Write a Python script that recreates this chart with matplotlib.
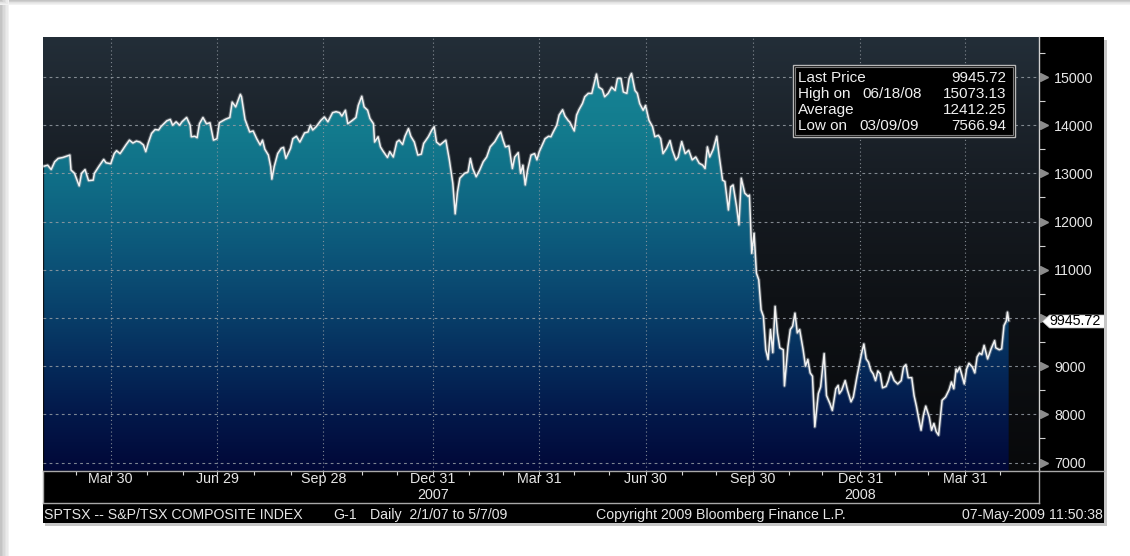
import numpy as np
import pandas as pd
import matplotlib
matplotlib.use('Agg')
import matplotlib.pyplot as plt
import matplotlib.dates as mdates
import matplotlib.transforms as mtransforms
from matplotlib.colors import LinearSegmentedColormap
from matplotlib.patches import Rectangle, PathPatch
from matplotlib.path import Path

plt.rcParams['font.family'] = ['Liberation Sans', 'DejaVu Sans']

# ---- data: S&P/TSX composite, days counted from 2007-02-01 ----
start_date = '2007-02-01'
days = [0, 3, 6, 9, 12, 16, 22, 23, 26, 30, 32, 35, 38, 42, 43, 47, 51, 53, 57, 60,
        62, 65, 67, 70, 73, 76, 79, 82, 85, 87, 89, 92, 95, 98, 100, 105, 108, 110, 113, 116,
        118, 122, 125, 126, 129, 131, 133, 136, 139, 142, 145, 148, 150, 155, 159, 161, 164, 168, 169, 172,
        176, 179, 182, 185, 187, 189, 192, 194, 195, 197, 200, 203, 205, 207, 211, 213, 216, 219, 223, 226,
        228, 230, 233, 237, 240, 243, 247, 250, 253, 255, 258, 260, 264, 267, 269, 272, 274, 277, 279, 282,
        283, 286, 288, 290, 294, 296, 299, 302, 304, 307, 309, 312, 314, 317, 320, 323, 325, 329, 332, 334,
        336, 339, 342, 344, 347, 350, 352, 354, 356, 360, 363,
        365, 367, 370, 373, 376, 379, 382, 386, 389, 391, 393, 395, 398, 401, 403, 406, 408, 410, 412, 414,
        417, 420, 422, 424, 429, 432, 434, 436, 439, 441, 444, 446, 449, 450, 454, 456, 458, 461, 463, 466,
        469, 471, 473, 475, 478, 480, 483, 486, 489, 491, 494, 496, 499, 501, 503, 506, 508, 510, 513, 515, 518,
        521, 523, 526, 528, 530, 533, 536, 538, 541, 543, 546, 549, 552, 555, 558, 561, 564, 566, 568, 570,
        573, 576, 578, 581, 583, 586, 588, 590, 593, 595, 597, 600, 603, 604, 606, 608, 610, 612, 614, 616,
        618, 620, 622, 624, 626, 628, 630, 633, 634, 637, 639, 641, 643, 645, 647, 648, 650, 652, 654, 656, 658,
        660, 663, 665, 668, 670, 673, 675, 678, 680, 681, 683, 686, 688, 691, 693, 696, 700, 702, 704, 706,
        708, 710, 712, 714, 716, 718, 721, 723, 725, 728, 731, 734, 736, 738, 740, 743, 745, 747, 749, 751,
        753, 755, 758, 760, 762, 764, 766, 769, 772, 775, 777, 779, 781, 782, 784, 786, 788, 790, 792, 795,
        797, 799, 801, 803, 805, 808, 811, 814, 815, 818, 820, 822, 824, 825, 826]
close = [13150, 13170, 13080, 13240, 13310, 13330, 13380, 13070, 13000, 12740, 13000, 13080, 12850, 12860, 13000, 13150, 13290, 13220, 13200, 13410,
         13470, 13410, 13480, 13590, 13690, 13630, 13670, 13650, 13590, 13450, 13620, 13830, 13910, 13900, 13970, 14090, 14120, 14000, 14070, 14000,
         14070, 14160, 14000, 13760, 13770, 13740, 14030, 14160, 14030, 14050, 13690, 13720, 14050, 14120, 14160, 14480, 14380, 14640, 14590, 14120,
         13860, 13880, 13720, 13590, 13690, 13500, 13380, 13140, 12880, 13140, 13410, 13520, 13540, 13310, 13520, 13720, 13770, 13650, 13840, 13860,
         14000, 13900, 13970, 14100, 14170, 14070, 14260, 14280, 14260, 14190, 14310, 14030, 14100, 14160, 14410, 14600, 14380, 14310, 14140, 14030,
         13650, 13760, 13550, 13470, 13330, 13450, 13340, 13650, 13690, 13600, 13770, 13930, 13770, 13650, 13380, 13400, 13620, 13760, 13900, 13970,
         13650, 13590, 13650, 13690, 13280, 12790, 12160, 12620, 12900, 13000, 13030,
         13310, 13100, 12930, 13070, 13240, 13340, 13550, 13660, 13790, 13860, 13690, 13550, 13570, 13100, 13340, 13430, 13000, 13170, 12760, 13070,
         13380, 13410, 13280, 13450, 13720, 13770, 13760, 13860, 14000, 14210, 14320, 14190, 14090, 14070, 13880, 14210, 14320, 14450, 14590, 14660,
         14660, 14860, 15060, 14790, 14740, 14590, 14660, 14790, 14720, 14970, 14970, 14690, 14660, 14970, 15073.13, 14720, 14660, 14450, 14310, 14410, 14100,
         13970, 13760, 13790, 13720, 13410, 13520, 13680, 13480, 13280, 13340, 13660, 13410, 13480, 13280, 13340, 13210, 13170, 13100, 13550, 13340,
         13500, 13770, 13380, 12860, 12830, 12240, 12720, 12760, 12310, 11930, 12900, 12590, 12520, 12550, 11340, 11760, 10930, 10790, 10170, 10030,
         9340, 9140, 9760, 9280, 10240, 9690, 9380, 9340, 8590, 9410, 9760, 9830, 10100, 9690, 9760, 9620, 9340, 9000, 9140, 8860, 8790,
         7740, 8430, 8570, 9260, 8390, 8220, 8080, 8530, 8600, 8430, 8500, 8700, 8500, 8260, 8360, 8770, 9260, 9460, 9150, 9080,
         8910, 8840, 8700, 8900, 8840, 8550, 8580, 8700, 8880, 8700, 8630, 8700, 8980, 9030, 8760, 8760, 8390, 8170, 7910, 7670,
         7980, 8170, 7940, 7670, 7810, 7640, 7566.94, 8290, 8360, 8510, 8670, 8530, 8940, 8880, 8980, 8810, 8630, 8940, 9060, 8980,
         8860, 9190, 9270, 9240, 9430, 9150, 9360, 9530, 9380, 9340, 9360, 9840, 9940, 10120, 9945.72]

y_ticks = [7000, 8000, 9000, 10000, 11000, 12000, 13000, 14000, 15000]
quarter_dates = ['2007-03-30', '2007-06-29', '2007-09-28', '2007-12-31', '2008-03-31',
                 '2008-06-30', '2008-09-30', '2008-12-31', '2009-03-31']
quarter_labels = ['Mar 30', 'Jun 29', 'Sep 28', 'Dec 31', 'Mar 31', 'Jun 30', 'Sep 30', 'Dec 31', 'Mar 31']
year_dates = ['2007-12-31', '2008-12-31']
year_labels = ['2007', '2008']

last_price = 9945.72
stat_names = ['Last Price', 'High on', 'Average', 'Low on']
stat_dates = ['', '06/18/08', '', '03/09/09']
stat_values = ['9945.72', '15073.13', '12412.25', '7566.94']

footer_name = 'SPTSX -- S&P/TSX COMPOSITE INDEX'
footer_code = 'G-1'
footer_range = 'Daily  2/1/07 to 5/7/09'
footer_copy = 'Copyright 2009 Bloomberg Finance L.P.'
footer_stamp = '07-May-2009 11:50:38'

# ---- layout helpers (pixel boxes) ----
W, H = 1130, 556
fig = plt.figure(figsize=(W / 100, H / 100), dpi=100, facecolor='white')


def box(x0, y0, x1, y1):
    return [x0 / W, 1 - y1 / H, (x1 - x0) / W, (y1 - y0) / H]


def frect(x0, y0, x1, y1, z, **kw):
    b = box(x0, y0, x1, y1)
    fig.patches.append(Rectangle((b[0], b[1]), b[2], b[3], transform=fig.transFigure,
                                 zorder=z, **kw))


# page shadow
for i, c in enumerate(['#c4c4c4', '#cfcfcf', '#d9d9d9', '#e2e2e2', '#eaeaea', '#f2f2f2']):
    frect(i * 1.5, 0, i * 1.5 + 1.5, H, -5, color=c, lw=0)
    frect(0, i * 0.8, W, i * 0.8 + 0.8, -5, color=c, lw=0)

# chart frame + drop shadow
frect(45, 39.5, 1107, 526, -3, color='#c6c6c6', lw=0)
frect(43, 37.3, 1104, 522.7, -2, color='black', lw=0)

# ---- main price panel ----
ax = fig.add_axes(box(43, 37.3, 1039, 470.7))
x = mdates.date2num(np.datetime64(start_date) + np.array(days, dtype='timedelta64[D]'))
y = np.array(close)
x0 = mdates.date2num(np.datetime64('2007-01-31'))
x1 = mdates.date2num(np.datetime64('2009-06-02'))
y0, y1 = 6830, 15824

grad = np.linspace(0, 1, 256).reshape(-1, 1)
bg_cmap = LinearSegmentedColormap.from_list(
    'bg', [(0, '#08090b'), (0.4, '#0f1216'), (0.7, '#181e25'), (1, '#232e38')])
ax.imshow(grad, extent=[x0, x1, y0, y1], origin='lower', aspect='auto', cmap=bg_cmap, zorder=0)

fill_cmap = LinearSegmentedColormap.from_list(
    'fill', [(0, '#010838'), (0.13, '#03184a'), (0.24, '#052a5a'), (0.35, '#083d68'),
             (0.46, '#0b4f75'), (0.575, '#0e6180'), (0.686, '#107088'), (0.797, '#137c8e'),
             (1, '#198a9c')])
poly = ax.fill_between(x, y, y0, facecolor='none', edgecolor='none')
clip = PathPatch(poly.get_paths()[0], transform=ax.transData, facecolor='none', edgecolor='none')
ax.add_patch(clip)
im = ax.imshow(grad, extent=[x0, x1, y0, y1], origin='lower', aspect='auto', cmap=fill_cmap, zorder=1)
im.set_clip_path(clip)

grid_c = '#959ca3'
for v in y_ticks:
    ax.axhline(v, color=grid_c, lw=0.8, ls=(0, (2.5, 3)), zorder=2, alpha=0.85)
for d in quarter_dates:
    ax.axvline(mdates.datestr2num(d), color=grid_c, lw=0.8, ls=(0, (1, 2.5)), zorder=2, alpha=0.85)

ax.plot(x, y, color='#9fa6ab', lw=2.6, alpha=0.45, zorder=3)
ax.plot(x, y, color='#f2f2f2', lw=1.1, zorder=4)

ax.set_xlim(x0, x1)
ax.set_ylim(y0, y1)
ax.set_xticks([])
for s in ['left', 'top', 'bottom']:
    ax.spines[s].set_visible(False)
ax.spines['right'].set_color('#d0d0d0')
ax.spines['right'].set_linewidth(1.0)

ax.yaxis.tick_right()
ax.set_yticks(y_ticks)
ax.set_yticklabels(['' if abs(v - last_price) < 300 else str(v) for v in y_ticks])
ax.set_yticks(np.arange(7500, 16000, 1000), minor=True)
ax.tick_params(axis='y', which='major', length=0, pad=11, labelsize=10.3, labelcolor='#e6e6e6')
ax.tick_params(axis='y', which='minor', length=4, width=0.8, color='#d0d0d0', direction='out')

bt = mtransforms.blended_transform_factory(ax.transAxes, ax.transData)
ax.plot([1.005] * len(y_ticks), y_ticks, ls='none', marker='>', ms=6, color='#8c8c8c',
        transform=bt, clip_on=False, zorder=5)

# last price flag
flag = Path([(-31, 0), (-24, 6.5), (31, 6.5), (31, -6.5), (-24, -6.5), (-31, 0)],
            [Path.MOVETO] + [Path.LINETO] * 4 + [Path.CLOSEPOLY])
ax.plot([1.0338], [last_price], ls='none', marker=flag, ms=44.6, mfc='white', mec='#bbbbbb',
        mew=0.5, transform=bt, clip_on=False, zorder=6)
ax.text(1.0362, last_price, f'{last_price:.2f}', transform=bt, ha='center', va='center',
        fontsize=10.3, color='black', zorder=7, clip_on=False)

# ---- date panel ----
ax_d = fig.add_axes(box(43, 470.7, 1039, 503.3), facecolor='black')
ax_d.set_xlim(x0, x1)
ax_d.set_ylim(0, 1)
ax_d.set_xticks([])
ax_d.set_yticks([])
for s in ax_d.spines.values():
    s.set_color('#a8a8a8')
    s.set_linewidth(1.0)
month_ends = pd.date_range('2007-02-01', '2009-05-01', freq='BME')
ax_d.vlines(mdates.date2num(month_ends.to_numpy()), 1 - 4 / 32.6, 1, color='#d8d8d8', lw=0.8)
for d, lab in zip(quarter_dates, quarter_labels):
    ax_d.text(mdates.datestr2num(d), 0.745, lab, ha='center', va='center', fontsize=10.3,
              color='#e6e6e6')
for d, lab in zip(year_dates, year_labels):
    ax_d.text(mdates.datestr2num(d), 0.255, lab, ha='center', va='center', fontsize=10.3,
              color='#e6e6e6')
fig.lines.append(plt.Line2D([1039 / W, 1104 / W], [1 - 470.7 / H] * 2, transform=fig.transFigure,
                            color='#a8a8a8', lw=1.0, zorder=4))

# ---- footer ----
fy = 1 - 515 / H
for px, txt, ha in [(44, footer_name, 'left'), (333, footer_code, 'left'),
                    (370, footer_range, 'left'), (595.6, footer_copy, 'left'),
                    (1103, footer_stamp, 'right')]:
    fig.text(px / W, fy, txt, ha=ha, va='center', fontsize=10.2, color='#e6e6e6')

# ---- stats box ----
frect(792.7, 65, 1015, 137.3, 5, facecolor='black', edgecolor='#b8b8b8', lw=1.0)
frect(795, 67.3, 1012.7, 135, 5.1, facecolor='none', edgecolor='#7a7a7a', lw=0.8)
rows_y = [78.3, 94, 110, 126]
date_x = [0, 862.7, 0, 859.3]
for ry, name, dt, dx, val in zip(rows_y, stat_names, stat_dates, date_x, stat_values):
    fig.text(798.3 / W, 1 - ry / H, name, ha='left', va='center', fontsize=11, color='#f0f0f0', zorder=6)
    if dt:
        fig.text(dx / W, 1 - ry / H, dt, ha='left', va='center', fontsize=11, color='#f0f0f0', zorder=6)
    fig.text(1006.7 / W, 1 - ry / H, val, ha='right', va='center', fontsize=11, color='#f0f0f0', zorder=6)

fig.savefig('out.png', dpi=100, facecolor='white')
